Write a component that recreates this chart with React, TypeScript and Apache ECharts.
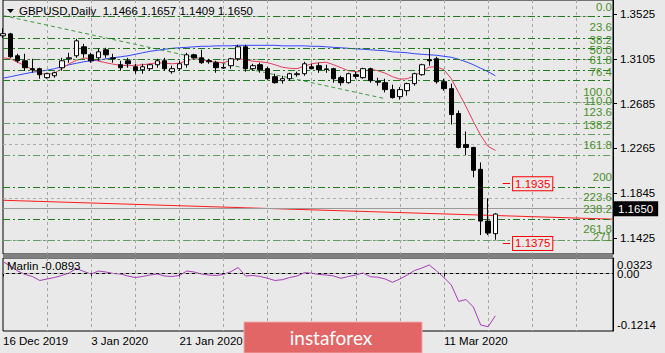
import React, { useEffect, useRef } from 'react';
import * as echarts from 'echarts';

const FONT = '"Liberation Sans", Arial, sans-serif';
const FS = 11.5;
const BG = '#e9e9e9';

const dates = [
  '16 Dec 2019', '17 Dec 2019', '18 Dec 2019', '19 Dec 2019', '20 Dec 2019', '23 Dec 2019', '24 Dec 2019',
  '26 Dec 2019', '27 Dec 2019', '30 Dec 2019', '31 Dec 2019', '2 Jan 2020', '3 Jan 2020', '6 Jan 2020',
  '7 Jan 2020', '8 Jan 2020', '9 Jan 2020', '10 Jan 2020', '13 Jan 2020', '14 Jan 2020', '15 Jan 2020',
  '16 Jan 2020', '17 Jan 2020', '20 Jan 2020', '21 Jan 2020', '22 Jan 2020', '23 Jan 2020', '24 Jan 2020',
  '27 Jan 2020', '28 Jan 2020', '29 Jan 2020', '30 Jan 2020', '31 Jan 2020', '3 Feb 2020', '4 Feb 2020',
  '5 Feb 2020', '6 Feb 2020', '7 Feb 2020', '10 Feb 2020', '11 Feb 2020', '12 Feb 2020', '13 Feb 2020',
  '14 Feb 2020', '17 Feb 2020', '18 Feb 2020', '19 Feb 2020', '20 Feb 2020', '21 Feb 2020', '24 Feb 2020',
  '25 Feb 2020', '26 Feb 2020', '27 Feb 2020', '28 Feb 2020', '2 Mar 2020', '3 Mar 2020', '4 Mar 2020',
  '5 Mar 2020', '6 Mar 2020', '9 Mar 2020', '10 Mar 2020', '11 Mar 2020', '12 Mar 2020', '13 Mar 2020',
  '16 Mar 2020', '17 Mar 2020', '18 Mar 2020', '19 Mar 2020', '20 Mar 2020',
];
const futureSlots = 16;
const shownDateIdx = [0, 12, 24, 60];

const opens = [
  1.3320, 1.3338, 1.3133, 1.3086, 1.3012, 1.3012, 1.2928, 1.2946, 1.3021, 1.3105,
  1.3133, 1.3217, 1.3142, 1.3114, 1.3189, 1.3114, 1.3049, 1.3086, 1.3030, 1.3002,
  1.3012, 1.3049, 1.3086, 1.2984, 1.3012, 1.3049, 1.3142, 1.3114, 1.3086, 1.3068,
  1.3024, 1.3040, 1.3105, 1.3217, 1.3012, 1.3049, 1.3012, 1.2937, 1.2900, 1.2918,
  1.2956, 1.2965, 1.3030, 1.3040, 1.3010, 1.3012, 1.2928, 1.2881, 1.2956, 1.2928,
  1.3012, 1.2895, 1.2881, 1.2816, 1.2750, 1.2806, 1.2872, 1.2956, 1.3096, 1.3105,
  1.2890, 1.2825, 1.2592, 1.2302, 1.2274, 1.2069, 1.1584, 1.1466,
];
const highs = [
  1.3390, 1.3348, 1.3152, 1.3152, 1.3105, 1.3021, 1.2974, 1.2984, 1.3114, 1.3161,
  1.3292, 1.3245, 1.3161, 1.3198, 1.3208, 1.3152, 1.3086, 1.3114, 1.3058, 1.3058,
  1.3058, 1.3105, 1.3114, 1.3040, 1.3086, 1.3161, 1.3152, 1.3189, 1.3105, 1.3086,
  1.3058, 1.3114, 1.3236, 1.3236, 1.3058, 1.3068, 1.3030, 1.2965, 1.2946, 1.2974,
  1.2984, 1.3077, 1.3058, 1.3068, 1.3049, 1.3021, 1.2946, 1.2974, 1.2984, 1.3021,
  1.3021, 1.2928, 1.2918, 1.2862, 1.2840, 1.2881, 1.2974, 1.3058, 1.3198, 1.3124,
  1.2918, 1.2872, 1.2620, 1.2424, 1.2280, 1.2134, 1.1798, 1.1657,
];
const lows = [
  1.3300, 1.3114, 1.3068, 1.2993, 1.2974, 1.2918, 1.2918, 1.2928, 1.2993, 1.3068,
  1.3114, 1.3114, 1.3068, 1.3086, 1.3114, 1.3068, 1.2993, 1.3021, 1.2965, 1.2965,
  1.2993, 1.3021, 1.2993, 1.2965, 1.2993, 1.3021, 1.3105, 1.3058, 1.3058, 1.2974,
  1.3012, 1.3012, 1.3086, 1.2984, 1.2993, 1.2974, 1.2909, 1.2872, 1.2872, 1.2900,
  1.2937, 1.2946, 1.3005, 1.2974, 1.2974, 1.2881, 1.2853, 1.2872, 1.2918, 1.2918,
  1.2881, 1.2853, 1.2790, 1.2732, 1.2722, 1.2760, 1.2853, 1.2946, 1.3040, 1.2872,
  1.2806, 1.2489, 1.2265, 1.2200, 1.1994, 1.1453, 1.1453, 1.1409,
];
const closes = [
  1.3340, 1.3124, 1.3086, 1.3021, 1.3002, 1.2956, 1.2965, 1.2974, 1.3086, 1.3114,
  1.3273, 1.3152, 1.3086, 1.3170, 1.3142, 1.3105, 1.3021, 1.3058, 1.2993, 1.3030,
  1.3049, 1.3086, 1.3012, 1.3012, 1.3058, 1.3142, 1.3114, 1.3068, 1.3077, 1.3021,
  1.3018, 1.3105, 1.3217, 1.3012, 1.3040, 1.3002, 1.2918, 1.2881, 1.2918, 1.2965,
  1.2965, 1.3058, 1.3012, 1.3002, 1.3005, 1.2918, 1.2881, 1.2965, 1.2940, 1.3012,
  1.2900, 1.2886, 1.2816, 1.2741, 1.2816, 1.2872, 1.2965, 1.3049, 1.3086, 1.2890,
  1.2825, 1.2582, 1.2274, 1.2274, 1.2060, 1.1584, 1.1472, 1.1650,
];

const maSlow = [
  1.2923, 1.2937, 1.2951, 1.2965, 1.2979, 1.2988, 1.2998, 1.3012, 1.3030, 1.3049,
  1.3063, 1.3077, 1.3086, 1.3091, 1.3105, 1.3114, 1.3124, 1.3133, 1.3147, 1.3161,
  1.3175, 1.3184, 1.3194, 1.3203, 1.3208, 1.3212, 1.3217, 1.3222, 1.3222, 1.3226,
  1.3226, 1.3226, 1.3231, 1.3231, 1.3231, 1.3231, 1.3231, 1.3231, 1.3226, 1.3226,
  1.3226, 1.3226, 1.3222, 1.3222, 1.3217, 1.3212, 1.3208, 1.3203, 1.3198, 1.3194,
  1.3189, 1.3184, 1.3180, 1.3170, 1.3166, 1.3161, 1.3152, 1.3147, 1.3142, 1.3138,
  1.3128, 1.3119, 1.3100, 1.3077, 1.3049, 1.3016, 1.2984, 1.2946,
];
const maFast = [
  1.3114, 1.3105, 1.3072, 1.3040, 1.3002, 1.2970, 1.2956, 1.2970, 1.3012, 1.3058,
  1.3091, 1.3110, 1.3110, 1.3082, 1.3068, 1.3054, 1.3044, 1.3040, 1.3044, 1.3049,
  1.3058, 1.3068, 1.3063, 1.3058, 1.3063, 1.3086, 1.3105, 1.3096, 1.3082, 1.3072,
  1.3068, 1.3091, 1.3105, 1.3096, 1.3082, 1.3077, 1.3068, 1.3049, 1.3026, 1.3016,
  1.3012, 1.3035, 1.3058, 1.3068, 1.3072, 1.3049, 1.3021, 1.2993, 1.2984, 1.2984,
  1.3007, 1.2993, 1.2970, 1.2937, 1.2914, 1.2918, 1.2946, 1.2988, 1.3026, 1.3030,
  1.3002, 1.2918, 1.2788, 1.2657, 1.2517, 1.2387, 1.2284, 1.2246,
];
const marlin = [
  0.0245, 0.0155, 0.0049, -0.0024, -0.0066, -0.0151, -0.0119, -0.0088, -0.0045, 0.0007,
  0.0102, 0.0039, -0.0014, 0.0049, 0.0028, -0.0003, -0.0014, -0.0056, -0.0088, -0.0066,
  -0.0035, -0.0014, -0.0056, -0.0066, -0.0045, 0.0049, 0.0028, -0.0014, -0.0035, -0.0045,
  -0.0024, 0.0035, 0.0123, -0.0056, -0.0045, -0.0066, -0.0104, -0.0151, -0.0134, -0.0088,
  -0.0056, 0.0014, 0.0003, -0.0024, -0.0035, -0.0056, -0.0104, -0.0066, -0.0035, 0.0007,
  -0.0071, -0.0081, -0.0119, -0.0189, -0.0119, -0.0035, 0.0060, 0.0112, 0.0176, 0.0049,
  -0.0088, -0.0245, -0.0592, -0.0551, -0.0709, -0.1088, -0.1123, -0.0893,
];

const priceTicks = [1.1425, 1.1845, 1.2265, 1.2685, 1.3105, 1.3525];
const priceMin = 1.127561;
const priceMax = 1.365567;
const oscMin = -0.1214;
const oscMax = 0.0323;
const oscEdgeTicks = [-0.1214, 0.0323];
const oscZeroTick = [0];

const fibHigh = 1.3525;
const fibLow = 1.2731;
const fibLevels = [0, 23.6, 38.2, 50, 61.8, 76.4, 100, 110, 123.6, 138.2, 161.8, 200, 223.6, 238.2, 261.8, 271];
const fibTexts = ['0.0', '23.6', '38.2', '50.0', '61.8', '76.4', '100.0', '110.0', '123.6', '138.2', '161.8', '200', '223.6', '238.2', '261.8', '271'];
const fibLight = [110, 123.6, 138.2, 161.8, 271];
const fibDiagonal = [[0, 1.3510], [52, 1.2731]];
const redTrend = [[0, 1.1779], [83, 1.1602]];
const targetPrices = [1.1935, 1.1375];
const targetFrom = 68;
const targetTo = 69;
const lastPrice = 1.1650;

const categories = [...dates, ...Array.from({ length: futureSlots }, () => '')];
const gridInterval = (i: number) => i > 0 && i % 6 === 0;
const fibPrice = (lv: number) => fibHigh - (lv / 100) * (fibHigh - fibLow);

function baseGraphics(): any[] {
  const last = opens.length - 1;
  const header = `GBPUSD,Daily  ${opens[last].toFixed(4)} ${highs[last].toFixed(4)} ${lows[last].toFixed(4)} ${closes[last].toFixed(4)}`;
  return [
    { id: 'tri', type: 'polygon', shape: { points: [[7, 9], [14, 9], [10.5, 13]] }, style: { fill: '#000' }, z: 50 },
    { id: 'hdr', type: 'text', x: 19, y: 5, style: { text: header, fill: '#000', font: `${FS}px ${FONT}` }, z: 50 },
    { id: 'osc', type: 'text', x: 7, y: 260, style: { text: `Marlin ${marlin[marlin.length - 1].toFixed(4)}`, fill: '#000', font: `${FS}px ${FONT}` }, z: 50 },
    { id: 'sep', type: 'rect', shape: { x: 3, y: 254, width: 610, height: 4 }, style: { fill: '#808080' }, z: 50 },
    { id: 'logoBox', type: 'rect', shape: { x: 244, y: 322, width: 178, height: 31 }, style: { fill: '#e26666', stroke: '#f0a8a8', lineWidth: 1 }, z: 60 },
    {
      id: 'logoText', type: 'text', x: 331, y: 337,
      style: { text: 'instaforex', fill: '#ffffff', font: '19px Lato, "Open Sans", sans-serif', align: 'center', verticalAlign: 'middle' },
      z: 61,
    },
  ];
}

function buildOption(): any {
  const splitLine = { show: true, interval: gridInterval, lineStyle: { color: '#a6a6a6', type: [3, 3], width: 1 } };
  const fibData = fibLevels.map((lv) => ({
    yAxis: fibPrice(lv),
    lineStyle: { color: fibLight.includes(lv) ? '#5f9f5f' : '#1d7a1d', type: [7, 3, 2, 3], width: 1 },
    label: { show: false },
  }));
  const gridLines = priceTicks.map((v) => ({
    yAxis: v, lineStyle: { color: '#adadad', type: [3, 3], width: 1 }, label: { show: false },
  }));
  const bidLine = {
    yAxis: lastPrice,
    lineStyle: { color: '#9a9a9a', type: 'solid', width: 1 },
    label: {
      show: true, position: 'end', formatter: lastPrice.toFixed(4), backgroundColor: '#000', color: '#fff',
      padding: [2, 5, 1, 4], fontSize: FS, fontFamily: FONT, distance: 1,
    },
  };
  const targets = targetPrices.map((p) => [
    { coord: [targetFrom, p] },
    {
      coord: [targetTo, p],
      label: {
        show: true, position: 'end', formatter: p.toFixed(4), color: '#ff0000', borderColor: '#ff0000',
        borderWidth: 1, backgroundColor: BG, padding: [1, 2, 0, 2], fontSize: FS, fontFamily: FONT, distance: 3,
      },
    },
  ]);
  const richBase = { fontSize: FS, fontFamily: FONT, color: '#000' };

  return {
    animation: false,
    backgroundColor: BG,
    grid: [
      { left: 3, right: 52, top: -1, height: 255, show: true, borderColor: '#000', borderWidth: 1 },
      { left: 3, right: 52, top: 258, height: 73, show: true, borderColor: '#000', borderWidth: 1 },
    ],
    xAxis: [
      {
        gridIndex: 0, type: 'category', data: categories, boundaryGap: false,
        axisLine: { show: false }, axisTick: { show: false }, axisLabel: { show: false }, splitLine,
      },
      {
        gridIndex: 1, type: 'category', data: categories, boundaryGap: false,
        axisLine: { show: true, lineStyle: { color: '#000' } },
        axisTick: { show: true, length: 3, interval: (i: number) => shownDateIdx.includes(i), lineStyle: { color: '#000' } },
        axisLabel: {
          show: true, interval: (i: number) => shownDateIdx.includes(i), align: 'left', color: '#000',
          fontSize: FS, fontFamily: FONT, margin: 4,
        },
        splitLine,
      },
    ],
    yAxis: [
      {
        gridIndex: 0, type: 'value', position: 'right', min: priceMin, max: priceMax,
        axisLine: { show: true, lineStyle: { color: '#000' } },
        axisTick: { show: true, length: 4, customValues: priceTicks, lineStyle: { color: '#000' } },
        axisLabel: {
          customValues: priceTicks, formatter: (v: number) => v.toFixed(4), color: '#000',
          fontSize: FS, fontFamily: FONT, margin: 7, showMinLabel: true, showMaxLabel: true,
        },
        splitLine: { show: false },
      },
      {
        gridIndex: 1, type: 'value', position: 'right', min: oscMin, max: oscMax,
        axisLine: { show: true, lineStyle: { color: '#000' } },
        axisTick: { show: false },
        axisLabel: {
          customValues: oscEdgeTicks, margin: 4, color: '#000', fontSize: FS, fontFamily: FONT,
          showMinLabel: true, showMaxLabel: true,
          formatter: (v: number) => (v > 0 ? `{top|${oscMax.toFixed(4)}}` : `{bot|${oscMin.toFixed(4)}}`),
          rich: {
            top: { ...richBase, padding: [13, 0, 0, 0] },
            bot: { ...richBase, padding: [0, 0, 13, 0] },
          },
        },
        splitLine: { show: false },
      },
      {
        gridIndex: 1, type: 'value', position: 'right', min: oscMin, max: oscMax,
        axisLine: { show: false },
        axisTick: { show: false },
        axisLabel: {
          customValues: oscZeroTick, margin: 4, color: '#000', fontSize: FS, fontFamily: FONT,
          formatter: () => '{mid|0.00}',
          rich: { mid: { ...richBase, padding: [2, 0, 0, 0] } },
        },
        splitLine: { show: false },
      },
    ],
    series: [
      {
        name: 'fibo', type: 'line', xAxisIndex: 0, yAxisIndex: 0, data: fibDiagonal, showSymbol: false, z: 2,
        lineStyle: { color: '#3f9a3f', type: [4, 3], width: 1 },
        markLine: { silent: true, symbol: ['none', 'none'], animation: false, data: [...gridLines, ...fibData] },
      },
      {
        name: 'trend', type: 'line', xAxisIndex: 0, yAxisIndex: 0, data: redTrend, showSymbol: false, z: 3,
        lineStyle: { color: '#ff1a1a', width: 1 },
        markLine: {
          silent: true, symbol: ['none', 'none'], animation: false,
          data: [bidLine, ...targets],
          lineStyle: { color: '#ff0000', type: 'solid', width: 1 },
        },
      },
      {
        name: 'maSlow', type: 'line', xAxisIndex: 0, yAxisIndex: 0, data: maSlow, showSymbol: false, z: 4,
        lineStyle: { color: '#3344ff', width: 1 },
      },
      {
        name: 'maFast', type: 'line', xAxisIndex: 0, yAxisIndex: 0, data: maFast, showSymbol: false, z: 4,
        lineStyle: { color: '#e63b5c', width: 1 },
      },
      {
        name: 'GBPUSD', type: 'candlestick', xAxisIndex: 0, yAxisIndex: 0, z: 6, barWidth: 5,
        data: opens.map((o, i) => [o, closes[i], lows[i], highs[i]]),
        itemStyle: { color: '#ffffff', color0: '#000000', borderColor: '#000000', borderColor0: '#000000', borderWidth: 1 },
      },
      {
        name: 'Marlin', type: 'line', xAxisIndex: 1, yAxisIndex: 1, data: marlin, showSymbol: false, z: 4,
        lineStyle: { color: '#a63cb8', width: 1 },
        markLine: {
          silent: true, symbol: ['none', 'none'], animation: false,
          data: [{ yAxis: 0, lineStyle: { color: '#a6a6a6', type: [3, 3], width: 1 }, label: { show: false } }],
        },
      },
    ],
    graphic: baseGraphics(),
  };
}

export default function App() {
  const ref = useRef<HTMLDivElement>(null);
  useEffect(() => {
    if (!ref.current) return;
    const chart = echarts.init(ref.current, null, { renderer: 'svg' });
    chart.setOption(buildOption());
    const rightX = chart.convertToPixel({ xAxisIndex: 0 }, categories.length - 1) as number;
    const fibLabels = fibLevels.map((lv, k) => {
      const y = chart.convertToPixel({ yAxisIndex: 0 }, fibPrice(lv)) as number;
      return {
        id: `fib${k}`, type: 'text', x: rightX - 1, y: y - 0.5,
        style: { text: fibTexts[k], fill: '#4a8f2a', font: `${FS}px ${FONT}`, align: 'right', verticalAlign: 'bottom' },
        z: 40,
      };
    });
    chart.setOption({ graphic: [...baseGraphics(), ...fibLabels] });
    return () => chart.dispose();
  }, []);
  return <div ref={ref} style={{ position: 'fixed', left: 0, top: 0, width: 665, height: 353, background: BG }} />;
}
